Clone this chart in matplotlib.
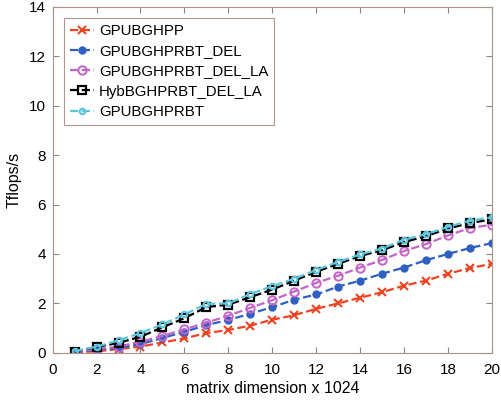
import numpy as np
import matplotlib
matplotlib.use("Agg")
import matplotlib.pyplot as plt

plt.rcParams['font.family'] = ['Liberation Sans', 'DejaVu Sans']

# matrix dimension (x 1024)
n = list(range(1, 21))

gpubghpp = [0.02, 0.06, 0.15, 0.25, 0.42, 0.58, 0.80, 0.92, 1.10, 1.34,
            1.52, 1.78, 2.00, 2.23, 2.45, 2.72, 2.92, 3.20, 3.43, 3.60]
gpubghprbt_del = [0.03, 0.12, 0.20, 0.35, 0.60, 0.85, 1.12, 1.33, 1.58, 1.85,
                  2.15, 2.36, 2.68, 2.92, 3.20, 3.45, 3.75, 4.00, 4.24, 4.44]
gpubghprbt_del_la = [0.04, 0.15, 0.25, 0.45, 0.68, 0.95, 1.22, 1.50, 1.82, 2.13,
                     2.48, 2.83, 3.12, 3.45, 3.76, 4.12, 4.40, 4.75, 5.05, 5.18]
hyb_del_la = [0.05, 0.24, 0.40, 0.65, 1.03, 1.40, 1.85, 1.95, 2.25, 2.56,
              2.92, 3.28, 3.60, 3.92, 4.15, 4.48, 4.72, 5.03, 5.25, 5.40]
gpubghprbt = [0.06, 0.25, 0.50, 0.80, 1.15, 1.55, 1.98, 2.00, 2.38, 2.70,
              3.00, 3.35, 3.68, 3.98, 4.22, 4.58, 4.80, 5.10, 5.35, 5.48]

fig = plt.figure(figsize=(5.01, 4.0), dpi=100)
ax = fig.add_axes([0.105, 0.118, 0.877, 0.865])

ax.plot(n, gpubghpp, '--x', color='#ee4422', lw=1.6, ms=6, mew=1.5, label='GPUBGHPP')
ax.plot(n, gpubghprbt_del, '--o', color='#2f5fc0', lw=1.6, ms=5, label='GPUBGHPRBT_DEL')
ax.plot(n, gpubghprbt_del_la, '--o', color='#c463c8', lw=1.6, ms=6, mfc='none', mew=1.4,
        label='GPUBGHPRBT_DEL_LA')
ax.plot(n, hyb_del_la, '--s', color='black', lw=1.6, ms=5.5, mfc='none', mew=1.6,
        label='HybBGHPRBT_DEL_LA')
ax.plot(n, gpubghprbt, '--o', color='#5cc7dc', lw=1.6, ms=4, mfc='none', mew=1.5,
        label='GPUBGHPRBT')

ax.set_xlim(0, 20)
ax.set_ylim(0, 14)
ax.set_xticks(range(0, 21, 2))
ax.set_yticks(range(0, 15, 2))
ax.tick_params(direction='in', top=True, right=True, labelsize=11, length=4, color='#888888')
ax.tick_params(axis='x', pad=7)
ax.tick_params(axis='y', pad=5)
for s in ax.spines.values():
    s.set_color('#b09080')
    s.set_linewidth(0.8)

ax.set_xlabel('matrix dimension x 1024', fontsize=11.5, labelpad=3)
ax.set_ylabel('Tflops/s', fontsize=11.5, labelpad=5)

leg = ax.legend(loc='upper left', fontsize=10.8, handlelength=1.6, handletextpad=0.3,
                borderpad=0.4, labelspacing=0.42, fancybox=False,
                bbox_to_anchor=(0.01, 0.99))
leg.get_frame().set_edgecolor('#a08070')
leg.get_frame().set_linewidth(0.8)

fig.savefig('out.png', dpi=100)
